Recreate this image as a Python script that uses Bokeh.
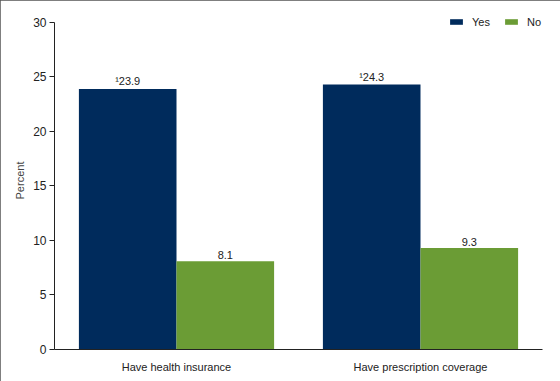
from bokeh.plotting import figure
from bokeh.models import ColumnDataSource, FactorRange, Legend, LegendItem, Range1d, SingleIntervalTicker, LabelSet
from bokeh.core.properties import value
from bokeh.transform import dodge
from bokeh.embed import file_html
from bokeh.resources import INLINE

categories = ["Have health insurance", "Have prescription coverage"]
yes_values = [23.9, 24.3]
no_values = [8.1, 9.3]
yes_labels = ["\u00b923.9", "\u00b924.3"]
no_labels = ["8.1", "9.3"]

YES_COLOR = "#002b5c"
NO_COLOR = "#6b9c35"
FONT = "Liberation Sans"

src = ColumnDataSource(dict(cat=categories, yes=yes_values, no=no_values,
                            yl=yes_labels, nl=no_labels))

p = figure(width=560, height=381, x_range=FactorRange(*categories, range_padding=0),
           y_range=Range1d(0, 31), output_backend="svg", toolbar_location=None,
           min_border_left=54, min_border_right=18, min_border_top=11, min_border_bottom=32)
p.outline_line_color = None
p.grid.visible = False
p.styles = {"outline": "1px solid #555", "outline-offset": "-1px"}

r_yes = p.vbar(x=dodge("cat", -0.2, range=p.x_range), top="yes", width=0.4, source=src,
               fill_color=YES_COLOR, line_color=None)
r_no = p.vbar(x=dodge("cat", 0.2, range=p.x_range), top="no", width=0.4, source=src,
              fill_color=NO_COLOR, line_color=None)

for col, off in (("yl", -0.2), ("nl", 0.2)):
    top = "yes" if col == "yl" else "no"
    p.add_layout(LabelSet(x=dodge("cat", off, range=p.x_range), y=top, text=col, source=src,
                          text_align="center", text_baseline="bottom", y_offset=2,
                          text_font=value(FONT), text_font_size=value("11px"),
                          text_color="#222"))

p.yaxis.ticker = SingleIntervalTicker(interval=5)
p.yaxis.bounds = (0, 30)
p.yaxis.axis_label = "Percent"
p.yaxis.axis_label_text_font = FONT
p.yaxis.axis_label_text_font_style = "normal"
p.yaxis.axis_label_text_font_size = "11px"
p.yaxis.axis_label_standoff = 4
p.yaxis.major_label_text_font = FONT
p.yaxis.major_label_text_font_size = "12px"
p.yaxis.major_label_standoff = 3
p.yaxis.major_tick_out = 5
p.yaxis.major_tick_in = 0
p.yaxis.minor_tick_line_color = None
p.axis.axis_line_color = "#222"
p.axis.major_tick_line_color = "#222"
p.axis.major_label_text_color = "#222"
p.xaxis.major_tick_line_color = None
p.xaxis.major_label_text_font = FONT
p.xaxis.major_label_text_font_size = "11px"
p.xaxis.major_label_standoff = 5

legend = Legend(items=[LegendItem(label="Yes", renderers=[r_yes]),
                       LegendItem(label="No", renderers=[r_no])],
                orientation="horizontal", location=(394, 321),
                glyph_width=16, glyph_height=7, label_height=13, label_standoff=8,
                spacing=11, padding=0, margin=0,
                border_line_alpha=0, background_fill_alpha=0,
                label_text_font=FONT, label_text_font_size="11px", label_text_color="#222")
p.add_layout(legend, "center")

open("out.html", "w").write(file_html(p, INLINE))
